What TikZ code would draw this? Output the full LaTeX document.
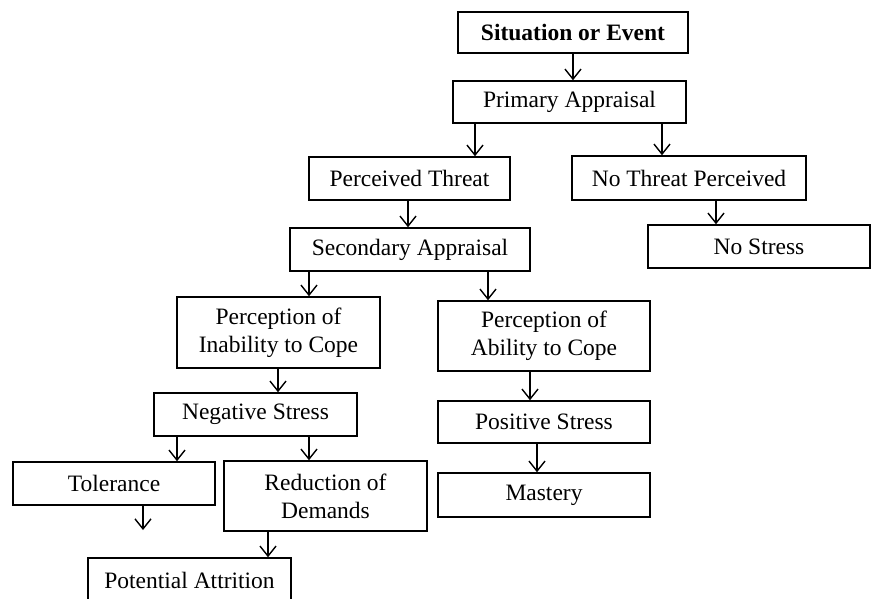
\documentclass[tikz,border=0pt]{standalone}
\usepackage{fontspec}
\setmainfont{Liberation Serif}
\usetikzlibrary{arrows.meta}
\tikzset{
  box/.style={draw=black, line width=1.6pt, inner sep=0pt, align=center,
    font=\fontsize{23.5}{28}\selectfont, text=black},
  arr/.style={draw=black, line width=1.4pt, -{Straight Barb[length=10pt,width=16pt,line width=1.4pt]}}
}
\begin{document}
\begin{tikzpicture}[x=1pt,y=-1pt]
\useasboundingbox (0,0) rectangle (871,599);
\clip (0,0) rectangle (871,599);
\node[box, minimum width=230pt, minimum height=41pt, font=\fontsize{23.5}{28}\selectfont\bfseries] (soe) at (573,32.5) {Situation or Event};
\node[box, minimum width=233pt, minimum height=42pt] (pa) at (569.5,102) {Primary Appraisal};
\node[box, minimum width=201pt, minimum height=43pt] (pt) at (409.5,178.5) {Perceived Threat};
\node[box, minimum width=234pt, minimum height=44pt] (ntp) at (689,178) {No Threat Perceived};
\node[box, minimum width=240pt, minimum height=43pt] (sa) at (410,249.5) {Secondary Appraisal};
\node[box, minimum width=222pt, minimum height=43pt] (nos) at (759,246.5) {No Stress};
\node[box, minimum width=203pt, minimum height=71pt] (pic) at (278.5,332.5) {Perception of\\Inability to Cope};
\node[box, minimum width=212pt, minimum height=70pt] (pac) at (544,336) {Perception of\\Ability to Cope};
\node[box, minimum width=203pt, minimum height=43pt] (ns) at (255.5,414.5) {Negative Stress};
\node[box, minimum width=212pt, minimum height=42pt] (ps) at (544,422) {Positive Stress};
\node[box, minimum width=202pt, minimum height=43pt] (tol) at (114,483.5) {Tolerance};
\node[box, minimum width=203pt, minimum height=70pt] (red) at (325.5,496) {Reduction of\\Demands};
\node[box, minimum width=212pt, minimum height=44pt] (mas) at (544,495) {Mastery};
\node[box, minimum width=203pt, minimum height=44pt] (pat) at (189.5,580) {Potential Attrition};
% arrow columns
\coordinate (c1) at (573,0);
\coordinate (c2) at (475,0);
\coordinate (c3) at (662,0);
\coordinate (c4) at (408,0);
\coordinate (c5) at (716,0);
\coordinate (c6) at (309,0);
\coordinate (c7) at (488,0);
\coordinate (c8) at (278,0);
\coordinate (c9) at (530,0);
\coordinate (c10) at (177,0);
\coordinate (c11) at (309,0);
\coordinate (c12) at (268,0);
\coordinate (c13) at (537,0);
\coordinate (tolend) at (143,530);
\draw[arr] (soe.south -| c1) -- (pa.north -| c1);
\draw[arr] (pa.south -| c2) -- (pt.north -| c2);
\draw[arr] (pa.south -| c3) -- (ntp.north -| c3);
\draw[arr] (pt.south -| c4) -- (sa.north -| c4);
\draw[arr] (ntp.south -| c5) -- (nos.north -| c5);
\draw[arr] (sa.south -| c6) -- (pic.north -| c6);
\draw[arr] (sa.south -| c7) -- (pac.north -| c7);
\draw[arr] (pic.south -| c8) -- (ns.north -| c8);
\draw[arr] (pac.south -| c9) -- (ps.north -| c9);
\draw[arr] (ns.south -| c10) -- (tol.north -| c10);
\draw[arr] (ns.south -| c11) -- (red.north -| c11);
\draw[arr] (tol.south -| tolend) -- (tolend);
\draw[arr] (red.south -| c12) -- (pat.north -| c12);
\draw[arr] (ps.south -| c13) -- (mas.north -| c13);
\end{tikzpicture}
\end{document}
